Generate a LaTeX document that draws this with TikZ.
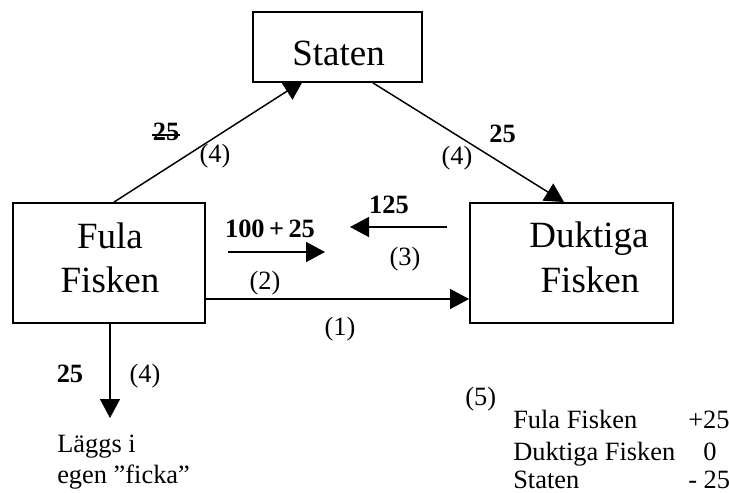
\documentclass[tikz,border=0pt]{standalone}
\usepackage{fontspec}
\setmainfont{Liberation Serif}
\usetikzlibrary{arrows.meta,calc,backgrounds}
\begin{document}
\begin{tikzpicture}[x=0.75pt,y=-0.75pt,
  box/.style={draw,line width=1.4pt,fill=white,inner sep=0pt},
  big/.style={font=\fontsize{27.75}{33}\selectfont,anchor=base,inner sep=0pt},
  lab/.style={font=\fontsize{19.8}{23}\selectfont,anchor=base,inner sep=0pt},
  blab/.style={lab,font=\fontsize{19.8}{23}\selectfont\bfseries},
  tab/.style={lab,anchor=base west},
  arr/.style={line width=1.1pt,-{Triangle[length=14.25pt,width=15pt]}}]
\useasboundingbox (0,0) rectangle (729,493);

% the three parties
\node[box,minimum width=126.75pt,minimum height=52.5pt] (staten) at (337.5,47) {};
\node[big] (statenT) at (338.5,65) {Staten};
\node[box,minimum width=144pt,minimum height=90pt] (fula) at (109,263) {};
\node[big] (fulaA) at (110,248) {Fula};
\node[big] (fulaB) at (110,292) {Fisken};
\node[box,minimum width=152.25pt,minimum height=90pt] (duk) at (571.5,263) {};
\node[big] (dukA) at (589,247) {Duktiga};
\node[big] (dukB) at (590,292) {Fisken};

% payments to and from the state, tucked under the boxes
\begin{scope}[on background layer]
  \draw[arr] ($(fula.north)+(5,0)$) -- ($(staten.south)+(-34.5,-2)$);
  \draw[arr] ($(staten.south)+(35.5,0)$) -- ($(duk.north)+(-7.5,0)$);
\end{scope}

% payment (1)
\draw[arr] ($(fula.east)+(0,36)$) -- ($(duk.west)+(0,36)$);

% free-standing arrows (2) and (3)
\coordinate (p2s) at (228,252);
\coordinate (p2e) at (325,252);
\coordinate (p3s) at (447,227);
\coordinate (p3e) at (350,227);
\draw[arr] (p2s) -- (p2e);
\draw[arr] (p3s) -- (p3e);

% money kept in the pocket
\coordinate (pocket) at (110,418);
\draw[arr] ($(fula.south)+(1,0)$) -- (pocket);

% amounts and step numbers
\node[blab] (s25) at (166,140) {25};
\draw[line width=1.3pt] ($(s25.base west)+(-1,-5)$) -- ($(s25.base east)+(1,-5)$);
\node[lab] (n4a) at (215,162) {(4)};
\node[blab] (r25) at (502.5,142) {25};
\node[lab] (n4b) at (457,164) {(4)};
\node[blab] (a125) at (270,237) {100\,+\,25};
\node[lab] (n2) at (265,289) {(2)};
\node[blab] (b125) at (389,213) {125};
\node[lab] (n3) at (405,265) {(3)};
\node[lab] (n1) at (340,335) {(1)};
\node[blab] (d25) at (70,382) {25};
\node[lab] (n4c) at (145,382) {(4)};
\node[tab] (ficka1) at (57,452) {Läggs i};
\node[tab] (ficka2) at (57,483) {egen ”ficka”};

% balance (5)
\node[tab] (n5) at (465,405) {(5)};
\node[tab] (t1) at (513,428) {Fula Fisken};
\node[tab] (v1) at (688,428) {+25};
\node[tab] (t2) at (513,460) {Duktiga Fisken};
\node[tab] (v2) at (703,460) {0};
\node[tab] (t3) at (513,488) {Staten};
\node[tab] (v3) at (688,488) {- 25};
\end{tikzpicture}
\end{document}
